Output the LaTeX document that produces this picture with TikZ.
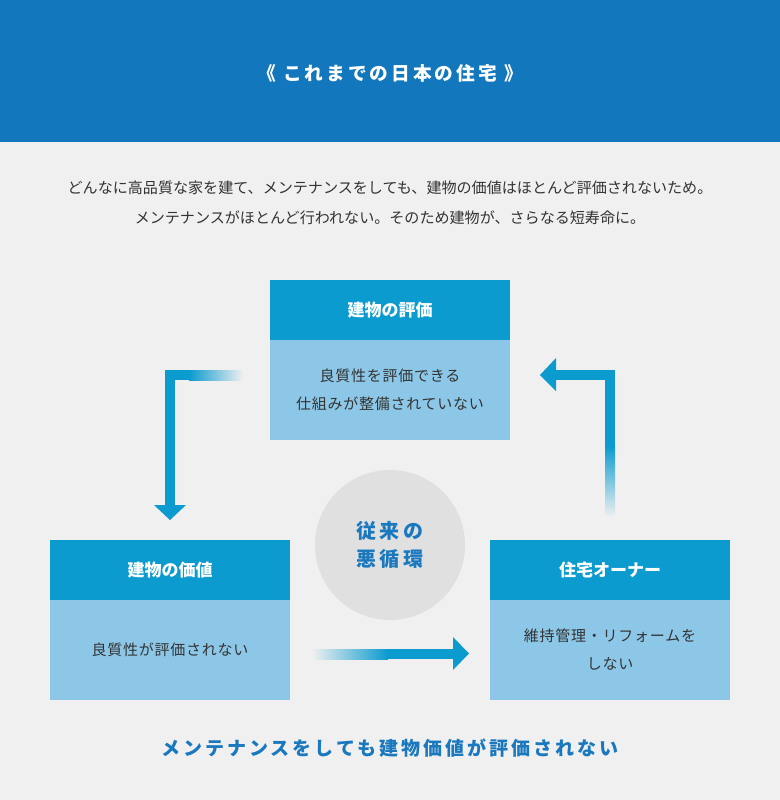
\documentclass[tikz,border=0pt]{standalone}
\usepackage{fontspec}
\setmainfont{Noto Sans CJK JP}
\newfontfamily\spacedfont[LetterSpace=16]{Noto Sans CJK JP}
\newfontfamily\bodyfont[LetterSpace=5]{Noto Sans CJK JP}
\usetikzlibrary{positioning}

\definecolor{bggray}{HTML}{F0F0F0}
\definecolor{bannerblue}{HTML}{1277BD}
\definecolor{headblue}{HTML}{0B9BCF}
\definecolor{bodyblue}{HTML}{8DC7E8}
\definecolor{arrowblue}{HTML}{0B9BCF}
\definecolor{textblue}{HTML}{1A78BE}
\definecolor{circlegray}{HTML}{E0E0E0}
\definecolor{txtgray}{HTML}{333333}

\begin{document}
\begin{tikzpicture}[x=0.75pt,y=-0.75pt,
	head/.style={fill=headblue, text=white, inner sep=0pt, outer sep=0pt, minimum width=180pt, minimum height=45pt, font=\fontsize{12.75}{15}\selectfont\bfseries},
	body/.style={fill=bodyblue, text=txtgray, inner sep=0pt, outer sep=0pt, minimum width=180pt, minimum height=75pt, align=center, font=\bodyfont\fontsize{11.25}{21}\selectfont}]

	\fill[bggray] (0,0) rectangle (780,800);
	\useasboundingbox (0,0) rectangle (780,800);
	\fill[bannerblue] (0,0) rectangle (780,142);

	\node (title) [text=white, font=\spacedfont\fontsize{14}{16}\selectfont\bfseries] at (390,73) {《 これまでの日本の住宅 》};
	\node (intro) [text=txtgray, align=center, font=\fontsize{11.3}{22.5}\selectfont] at (390,203) {どんなに高品質な家を建て、メンテナンスをしても、建物の価値はほとんど評価されないため。\\メンテナンスがほとんど行われない。そのため建物が、さらなる短寿命に。};

	% three boxes
	\node (hyoka) [head] at (390,310) {建物の評価};
	\node (hyokaBody) [body, below=0pt of hyoka] {良質性を評価できる\\仕組みが整備されていない};
	\node (kachi) [head] at (170,570) {建物の価値};
	\node (kachiBody) [body, below=0pt of kachi] {良質性が評価されない};
	\node (owner) [head] at (610,570) {住宅オーナー};
	\node (ownerBody) [body, below=0pt of owner] {維持管理・リフォームを\\しない};

	\node (jurai) [circle, fill=circlegray, minimum size=112.5pt, inner sep=0pt, align=center, text=textblue, font=\spacedfont\fontsize{15}{21}\selectfont\bfseries] at (390,545) {従来の\\悪循環};

	% arrows
	\shade[left color=arrowblue, right color=bggray] (189,370) rectangle (243,380);
	\fill[arrowblue] (165,370) rectangle (190,380);
	\fill[arrowblue] (165,370) rectangle (175,506);
	\fill[arrowblue] (154,505) -- (186,505) -- (170,520) -- cycle;

	\shade[left color=bggray, right color=arrowblue] (312,649) rectangle (388,659);
	\fill[arrowblue] (387,649) rectangle (454,659);
	\fill[arrowblue] (453,637) -- (453,670) -- (469,653.5) -- cycle;

	\shade[top color=arrowblue, bottom color=bggray] (605,446) rectangle (615,517);
	\fill[arrowblue] (605,370) rectangle (615,447);
	\fill[arrowblue] (555,370) rectangle (615,380);
	\fill[arrowblue] (556,358) -- (556,391) -- (540,375) -- cycle;

	\node (message) [text=textblue, font=\spacedfont\fontsize{14.25}{16}\selectfont\bfseries] at (390,748) {メンテナンスをしても建物価値が評価されない};
\end{tikzpicture}
\end{document}
